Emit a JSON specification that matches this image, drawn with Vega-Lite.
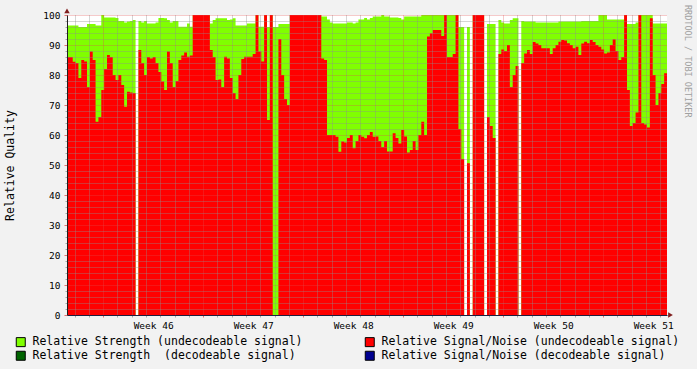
{
  "$schema": "https://vega.github.io/schema/vega-lite/v6.json",
  "width": 600,
  "height": 300,
  "autosize": {"type": "none"},
  "padding": {"left": 67, "top": 15, "right": 30, "bottom": 54},
  "background": "#F2F2F2",
  "config": {"view": {"stroke": null, "fill": "#FFFFFF"}, "font": "DejaVu Sans Mono"},
  "title": {"text": "RRDTOOL / TOBI OETIKER", "orient": "right", "anchor": "start", "offset": 3, "dx": -10, "font": "DejaVu Sans Mono", "fontSize": 8.5, "fontWeight": "normal", "color": "#A0A0A0", "frame": "group"},
  "datasets": {
    "q": [
      {"d":0,"s":96.5,"n":86},{"d":0.2,"s":96.5,"n":86},{"d":0.4,"s":96.5,"n":84.4},{"d":0.6,"s":96.5,"n":84},{"d":0.8,"s":96,"n":79},
      {"d":1,"s":96,"n":85},{"d":1.2,"s":96,"n":84.5},{"d":1.4,"s":97,"n":76},{"d":1.6,"s":97,"n":87.8},{"d":1.8,"s":97,"n":85},
      {"d":2,"s":96.5,"n":64.4},{"d":2.2,"s":96.5,"n":66},{"d":2.4,"s":100,"n":75},{"d":2.6,"s":99.2,"n":82},{"d":2.8,"s":99.2,"n":86.7},
      {"d":3,"s":99.2,"n":86},{"d":3.2,"s":99.2,"n":80},{"d":3.4,"s":99,"n":78.3},{"d":3.6,"s":98,"n":80},{"d":3.8,"s":98,"n":76.7},
      {"d":4,"s":97.5,"n":69.4},{"d":4.2,"s":97.8,"n":74.4},{"d":4.4,"s":98,"n":74.2},{"d":4.6,"s":98.3,"n":74},{"d":4.8,"s":0,"n":0},
      {"d":5,"s":98,"n":88.3},{"d":5.2,"s":97.5,"n":84},{"d":5.4,"s":98,"n":80},{"d":5.6,"s":97.2,"n":86},{"d":5.8,"s":97.2,"n":85.5},
      {"d":6,"s":97.2,"n":86},{"d":6.2,"s":97.5,"n":84},{"d":6.4,"s":99,"n":81},{"d":6.6,"s":99,"n":77.8},{"d":6.8,"s":98.9,"n":75},
      {"d":7,"s":98.3,"n":87.8},{"d":7.2,"s":97.5,"n":84},{"d":7.4,"s":98,"n":76},{"d":7.6,"s":98,"n":78},{"d":7.8,"s":96.1,"n":85},
      {"d":8,"s":96.1,"n":86.5},{"d":8.2,"s":96.1,"n":87.5},{"d":8.4,"s":97.2,"n":86.1},{"d":8.6,"s":96.1,"n":86.5},{"d":8.8,"s":100,"n":100},
      {"d":9,"s":100,"n":100},{"d":9.2,"s":100,"n":100},{"d":9.4,"s":100,"n":100},{"d":9.6,"s":100,"n":100},{"d":9.8,"s":100,"n":100},
      {"d":10,"s":97.2,"n":88.3},{"d":10.2,"s":98.3,"n":86},{"d":10.4,"s":98.9,"n":78.3},{"d":10.6,"s":98.9,"n":78.5},{"d":10.8,"s":98.9,"n":76},
      {"d":11,"s":98.9,"n":86.1},{"d":11.2,"s":98.3,"n":85.5},{"d":11.4,"s":98.5,"n":79},{"d":11.6,"s":98.9,"n":74},{"d":11.8,"s":96.5,"n":72},
      {"d":12,"s":96.5,"n":80},{"d":12.2,"s":96.5,"n":85.3},{"d":12.4,"s":96.5,"n":86.1},{"d":12.6,"s":97.2,"n":86.1},{"d":12.8,"s":97.2,"n":86.1},
      {"d":13,"s":97.2,"n":87},{"d":13.2,"s":100,"n":100},{"d":13.4,"s":96.1,"n":87.8},{"d":13.6,"s":96.1,"n":84.5},{"d":13.8,"s":100,"n":100},
      {"d":14,"s":96,"n":65},{"d":14.2,"s":100,"n":100},{"d":14.4,"s":96,"n":0},{"d":14.6,"s":96,"n":0},{"d":14.8,"s":97,"n":92},
      {"d":15,"s":97,"n":80},{"d":15.2,"s":97,"n":72},{"d":15.4,"s":97,"n":70},{"d":15.6,"s":100,"n":100},{"d":15.8,"s":100,"n":100},
      {"d":16,"s":100,"n":100},{"d":16.2,"s":100,"n":100},{"d":16.4,"s":100,"n":100},{"d":16.6,"s":100,"n":100},{"d":16.8,"s":100,"n":100},
      {"d":17,"s":100,"n":100},{"d":17.2,"s":100,"n":100},{"d":17.4,"s":100,"n":100},{"d":17.6,"s":100,"n":100},{"d":17.8,"s":99.5,"n":85.5},
      {"d":18,"s":99.5,"n":85},{"d":18.2,"s":98.5,"n":60},{"d":18.4,"s":97.5,"n":60},{"d":18.6,"s":97.2,"n":60},{"d":18.8,"s":97.2,"n":59.4},
      {"d":19,"s":97.2,"n":54.4},{"d":19.2,"s":97.2,"n":57.8},{"d":19.4,"s":97.2,"n":57.5},{"d":19.6,"s":97.5,"n":59},{"d":19.8,"s":97.5,"n":60},
      {"d":20,"s":97.2,"n":55.6},{"d":20.2,"s":97.5,"n":58},{"d":20.4,"s":98.5,"n":60},{"d":20.6,"s":98.5,"n":59.4},{"d":20.8,"s":99,"n":58.9},
      {"d":21,"s":98.5,"n":60},{"d":21.2,"s":99,"n":61},{"d":21.4,"s":99.5,"n":59.4},{"d":21.6,"s":99.5,"n":59.5},{"d":21.8,"s":99.5,"n":58},
      {"d":22,"s":100,"n":56},{"d":22.2,"s":99.5,"n":58},{"d":22.4,"s":99.5,"n":54.5},{"d":22.6,"s":99.2,"n":54.5},{"d":22.8,"s":99.2,"n":60.6},
      {"d":23,"s":99.2,"n":59},{"d":23.2,"s":99,"n":57.2},{"d":23.4,"s":98.5,"n":61.7},{"d":23.6,"s":99.5,"n":59.5},{"d":23.8,"s":99.5,"n":54.2},
      {"d":24,"s":99.5,"n":55},{"d":24.2,"s":99.5,"n":58},{"d":24.4,"s":99.5,"n":55},{"d":24.6,"s":99.5,"n":60},{"d":24.8,"s":100,"n":64.4},
      {"d":25,"s":100,"n":60},{"d":25.2,"s":100,"n":92.8},{"d":25.4,"s":100,"n":93.9},{"d":25.6,"s":100,"n":95},{"d":25.8,"s":100,"n":95},
      {"d":26,"s":100,"n":95},{"d":26.2,"s":100,"n":93},{"d":26.4,"s":100,"n":100},{"d":26.6,"s":100,"n":86},{"d":26.8,"s":100,"n":86},
      {"d":27,"s":100,"n":87},{"d":27.2,"s":100,"n":100},{"d":27.4,"s":96,"n":62},{"d":27.6,"s":96,"n":52},{"d":27.8,"s":0,"n":0},
      {"d":28,"s":96,"n":50.6},{"d":28.2,"s":0,"n":0},{"d":28.4,"s":100,"n":100},{"d":28.6,"s":100,"n":100},{"d":28.8,"s":100,"n":100},
      {"d":29,"s":100,"n":100},{"d":29.2,"s":0,"n":0},{"d":29.4,"s":97,"n":66},{"d":29.6,"s":97,"n":63},{"d":29.8,"s":97,"n":59},
      {"d":30,"s":0,"n":0},{"d":30.2,"s":98.3,"n":87},{"d":30.4,"s":97.5,"n":88.5},{"d":30.6,"s":97.2,"n":88},{"d":30.8,"s":97.2,"n":90},
      {"d":31,"s":98.3,"n":76},{"d":31.2,"s":98.9,"n":80},{"d":31.4,"s":98.9,"n":83},{"d":31.6,"s":0,"n":0},{"d":31.8,"s":98,"n":84},
      {"d":32,"s":97.8,"n":87.2},{"d":32.2,"s":97.8,"n":88.3},{"d":32.4,"s":97.8,"n":87},{"d":32.6,"s":97.8,"n":91},{"d":32.8,"s":97.5,"n":90.5},
      {"d":33,"s":97.5,"n":90},{"d":33.2,"s":97.5,"n":88.9},{"d":33.4,"s":97.5,"n":88.9},{"d":33.6,"s":97.5,"n":88.9},{"d":33.8,"s":97.5,"n":87},
      {"d":34,"s":97.5,"n":88.9},{"d":34.2,"s":97.5,"n":90},{"d":34.4,"s":97.8,"n":91.1},{"d":34.6,"s":97.8,"n":91.7},{"d":34.8,"s":97.8,"n":91.5},
      {"d":35,"s":97.8,"n":90.6},{"d":35.2,"s":97.8,"n":90},{"d":35.4,"s":97.8,"n":88.9},{"d":35.6,"s":97.8,"n":89.4},{"d":35.8,"s":97.8,"n":86.7},
      {"d":36,"s":98,"n":90.5},{"d":36.2,"s":98,"n":91.1},{"d":36.4,"s":98,"n":90.6},{"d":36.6,"s":98,"n":91.7},{"d":36.8,"s":98,"n":91},
      {"d":37,"s":98,"n":90},{"d":37.2,"s":100,"n":89.4},{"d":37.4,"s":100,"n":88.5},{"d":37.6,"s":100,"n":87.2},{"d":37.8,"s":98.5,"n":87.5},
      {"d":38,"s":98.5,"n":90},{"d":38.2,"s":98.5,"n":91.9},{"d":38.4,"s":98.5,"n":88},{"d":38.6,"s":98.5,"n":85},{"d":38.8,"s":98.5,"n":86},
      {"d":39,"s":100,"n":100},{"d":39.2,"s":97,"n":75},{"d":39.4,"s":97,"n":63},{"d":39.6,"s":97,"n":64},{"d":39.8,"s":97.5,"n":67.5},
      {"d":40,"s":100,"n":100},{"d":40.2,"s":100,"n":64},{"d":40.4,"s":100,"n":63.5},{"d":40.6,"s":100,"n":62.5},{"d":40.8,"s":100,"n":98.9},
      {"d":41,"s":97.2,"n":80},{"d":41.2,"s":97.2,"n":70},{"d":41.4,"s":97.2,"n":74},{"d":41.6,"s":97.2,"n":77},{"d":41.8,"s":97.2,"n":80.6},
      {"d":42,"s":97.2,"n":80.6}
    ],
    "arrows": [
      {"d": 0, "v": 101.4, "dir": "triangle-up"},
      {"d": 42.245, "v": 0, "dir": "triangle-right"}
    ]
  },
  "layer": [
    {
      "data": {"name": "q"},
      "mark": {"type": "area", "interpolate": "step-after", "opacity": 1},
      "encoding": {
        "x": {
          "field": "d", "type": "quantitative",
          "scale": {"domain": [0, 42], "nice": false, "zero": false},
          "axis": {
            "title": null,
            "values": [0.53,1.53,2.53,3.53,4.53,5.53,6.53,7.53,8.53,9.53,10.53,11.53,12.53,13.53,14.53,15.53,16.53,17.53,18.53,19.53,20.53,21.53,22.53,23.53,24.53,25.53,26.53,27.53,28.53,29.53,30.53,31.53,32.53,33.53,34.53,35.53,36.53,37.53,38.53,39.53,40.53,41.53,6.03,13.03,20.03,27.03,34.03,41.03],
            "labelExpr": "round(datum.value*100) % 100 == 3 ? 'Week ' + (46 + round((datum.value - 6.03)/7)) : ''",
            "grid": true,
            "gridDash": [1, 1],
            "gridColor": {"condition": {"test": "(round(datum.value*100) - 253) % 700 == 0", "value": "rgba(222,79,79,0.6)"}, "value": "rgba(143,143,143,0.75)"},
            "gridOpacity": {"condition": {"test": "round(datum.value*100) % 100 == 3", "value": 0}, "value": 1},
            "tickOpacity": {"condition": {"test": "round(datum.value*100) % 100 == 3", "value": 0}, "value": 1},
            "tickColor": {"condition": {"test": "(round(datum.value*100) - 253) % 700 == 0", "value": "rgba(222,79,79,0.8)"}, "value": "rgba(143,143,143,0.75)"},
            "tickSize": 2,
            "labelFont": "DejaVu Sans Mono",
            "labelFontSize": 9.5,
            "labelColor": "#000000",
            "labelPadding": 3,
            "labelOverlap": false,
            "labelFlush": false,
            "labelBound": false,
            "domainColor": "#1F1F3F",
            "zindex": 1
          }
        },
        "y": {
          "field": "s", "type": "quantitative", "stack": null,
          "scale": {"domain": [0, 100], "nice": false},
          "axis": {
            "title": "Relative Quality",
            "values": [0,2,4,6,8,10,12,14,16,18,20,22,24,26,28,30,32,34,36,38,40,42,44,46,48,50,52,54,56,58,60,62,64,66,68,70,72,74,76,78,80,82,84,86,88,90,92,94,96,98,100],
            "labelExpr": "datum.value % 10 == 0 ? datum.label : ''",
            "grid": true,
            "gridDash": [1, 1],
            "gridColor": {"condition": {"test": "datum.value % 10 == 0", "value": "rgba(222,79,79,0.6)"}, "value": "rgba(143,143,143,0.75)"},
            "tickColor": {"condition": {"test": "datum.value % 10 == 0", "value": "rgba(222,79,79,0.8)"}, "value": "rgba(143,143,143,0.75)"},
            "tickSize": {"condition": {"test": "datum.value % 10 == 0", "value": 3}, "value": 2},
            "labelFont": "DejaVu Sans Mono",
            "labelFontSize": 9.5,
            "labelColor": "#000000",
            "labelPadding": 4,
            "labelOverlap": false,
            "labelFlush": false,
            "labelBound": false,
            "domainColor": "#1F1F1F",
            "titleFont": "DejaVu Sans Mono",
            "titleFontSize": 11.5,
            "titleFontWeight": "normal",
            "titleColor": "#000000",
            "titleAngle": -90,
            "titleX": -57,
            "titleY": 150,
            "titleAlign": "center",
            "titleBaseline": "middle",
            "zindex": 1
          }
        },
        "color": {
          "datum": "Relative Strength (undecodeable signal)",
          "type": "nominal",
          "scale": {
            "domain": ["Relative Strength (undecodeable signal)", "Relative Strength\u00a0 (decodeable signal)", "Relative Signal/Noise (undecodeable signal)", "Relative Signal/Noise (decodeable signal)"],
            "range": ["#80FF00", "#006400", "#FF0000", "#000090"]
          },
          "legend": {
            "orient": "none",
            "legendX": -52,
            "legendY": 321,
            "columns": 2,
            "columnPadding": 60,
            "rowPadding": 0,
            "padding": 0,
            "title": null,
            "symbolType": "square",
            "symbolSize": 81,
            "symbolStrokeColor": "#000000",
            "symbolStrokeWidth": 1,
            "symbolOpacity": 1,
            "labelFont": "DejaVu Sans Mono",
            "labelFontSize": 11.5,
            "labelColor": "#000000",
            "labelLimit": 500,
            "labelOffset": 6,
            "encode": {"symbols": {"update": {"stroke": {"value": "#000000"}, "strokeWidth": {"value": 1}, "opacity": {"value": 1}}}}
          }
        }
      }
    },
    {
      "data": {"name": "q"},
      "mark": {"type": "area", "interpolate": "step-after", "opacity": 1},
      "encoding": {
        "x": {
          "field": "d", "type": "quantitative",
          "scale": {"domain": [0, 42], "nice": false, "zero": false},
          "axis": {
            "title": null,
            "values": [0.53,1.53,2.53,3.53,4.53,5.53,6.53,7.53,8.53,9.53,10.53,11.53,12.53,13.53,14.53,15.53,16.53,17.53,18.53,19.53,20.53,21.53,22.53,23.53,24.53,25.53,26.53,27.53,28.53,29.53,30.53,31.53,32.53,33.53,34.53,35.53,36.53,37.53,38.53,39.53,40.53,41.53,6.03,13.03,20.03,27.03,34.03,41.03],
            "labelExpr": "round(datum.value*100) % 100 == 3 ? 'Week ' + (46 + round((datum.value - 6.03)/7)) : ''",
            "grid": true,
            "gridDash": [1, 1],
            "gridColor": {"condition": {"test": "(round(datum.value*100) - 253) % 700 == 0", "value": "rgba(222,79,79,0.6)"}, "value": "rgba(143,143,143,0.75)"},
            "gridOpacity": {"condition": {"test": "round(datum.value*100) % 100 == 3", "value": 0}, "value": 1},
            "tickOpacity": {"condition": {"test": "round(datum.value*100) % 100 == 3", "value": 0}, "value": 1},
            "tickColor": {"condition": {"test": "(round(datum.value*100) - 253) % 700 == 0", "value": "rgba(222,79,79,0.8)"}, "value": "rgba(143,143,143,0.75)"},
            "tickSize": 2,
            "labelFont": "DejaVu Sans Mono",
            "labelFontSize": 9.5,
            "labelColor": "#000000",
            "labelPadding": 3,
            "labelOverlap": false,
            "labelFlush": false,
            "labelBound": false,
            "domainColor": "#1F1F3F",
            "zindex": 1
          }
        },
        "y": {
          "field": "n", "type": "quantitative", "stack": null,
          "scale": {"domain": [0, 100], "nice": false},
          "axis": {
            "title": "Relative Quality",
            "values": [0,2,4,6,8,10,12,14,16,18,20,22,24,26,28,30,32,34,36,38,40,42,44,46,48,50,52,54,56,58,60,62,64,66,68,70,72,74,76,78,80,82,84,86,88,90,92,94,96,98,100],
            "labelExpr": "datum.value % 10 == 0 ? datum.label : ''",
            "grid": true,
            "gridDash": [1, 1],
            "gridColor": {"condition": {"test": "datum.value % 10 == 0", "value": "rgba(222,79,79,0.6)"}, "value": "rgba(143,143,143,0.75)"},
            "tickColor": {"condition": {"test": "datum.value % 10 == 0", "value": "rgba(222,79,79,0.8)"}, "value": "rgba(143,143,143,0.75)"},
            "tickSize": {"condition": {"test": "datum.value % 10 == 0", "value": 3}, "value": 2},
            "labelFont": "DejaVu Sans Mono",
            "labelFontSize": 9.5,
            "labelColor": "#000000",
            "labelPadding": 4,
            "labelOverlap": false,
            "labelFlush": false,
            "labelBound": false,
            "domainColor": "#1F1F1F",
            "titleFont": "DejaVu Sans Mono",
            "titleFontSize": 11.5,
            "titleFontWeight": "normal",
            "titleColor": "#000000",
            "titleAngle": -90,
            "titleX": -57,
            "titleY": 150,
            "titleAlign": "center",
            "titleBaseline": "middle",
            "zindex": 1
          }
        },
        "color": {"datum": "Relative Signal/Noise (undecodeable signal)", "type": "nominal"}
      }
    },
    {
      "data": {"name": "arrows"},
      "mark": {"type": "point", "filled": true, "size": 30, "color": "#801F1F", "opacity": 1},
      "encoding": {
        "x": {
          "field": "d", "type": "quantitative",
          "scale": {"domain": [0, 42], "nice": false, "zero": false},
          "axis": {
            "title": null,
            "values": [0.53,1.53,2.53,3.53,4.53,5.53,6.53,7.53,8.53,9.53,10.53,11.53,12.53,13.53,14.53,15.53,16.53,17.53,18.53,19.53,20.53,21.53,22.53,23.53,24.53,25.53,26.53,27.53,28.53,29.53,30.53,31.53,32.53,33.53,34.53,35.53,36.53,37.53,38.53,39.53,40.53,41.53,6.03,13.03,20.03,27.03,34.03,41.03],
            "labelExpr": "round(datum.value*100) % 100 == 3 ? 'Week ' + (46 + round((datum.value - 6.03)/7)) : ''",
            "grid": true,
            "gridDash": [1, 1],
            "gridColor": {"condition": {"test": "(round(datum.value*100) - 253) % 700 == 0", "value": "rgba(222,79,79,0.6)"}, "value": "rgba(143,143,143,0.75)"},
            "gridOpacity": {"condition": {"test": "round(datum.value*100) % 100 == 3", "value": 0}, "value": 1},
            "tickOpacity": {"condition": {"test": "round(datum.value*100) % 100 == 3", "value": 0}, "value": 1},
            "tickColor": {"condition": {"test": "(round(datum.value*100) - 253) % 700 == 0", "value": "rgba(222,79,79,0.8)"}, "value": "rgba(143,143,143,0.75)"},
            "tickSize": 2,
            "labelFont": "DejaVu Sans Mono",
            "labelFontSize": 9.5,
            "labelColor": "#000000",
            "labelPadding": 3,
            "labelOverlap": false,
            "labelFlush": false,
            "labelBound": false,
            "domainColor": "#1F1F3F",
            "zindex": 1
          }
        },
        "y": {
          "field": "v", "type": "quantitative",
          "scale": {"domain": [0, 100], "nice": false},
          "axis": {
            "title": "Relative Quality",
            "values": [0,2,4,6,8,10,12,14,16,18,20,22,24,26,28,30,32,34,36,38,40,42,44,46,48,50,52,54,56,58,60,62,64,66,68,70,72,74,76,78,80,82,84,86,88,90,92,94,96,98,100],
            "labelExpr": "datum.value % 10 == 0 ? datum.label : ''",
            "grid": true,
            "gridDash": [1, 1],
            "gridColor": {"condition": {"test": "datum.value % 10 == 0", "value": "rgba(222,79,79,0.6)"}, "value": "rgba(143,143,143,0.75)"},
            "tickColor": {"condition": {"test": "datum.value % 10 == 0", "value": "rgba(222,79,79,0.8)"}, "value": "rgba(143,143,143,0.75)"},
            "tickSize": {"condition": {"test": "datum.value % 10 == 0", "value": 3}, "value": 2},
            "labelFont": "DejaVu Sans Mono",
            "labelFontSize": 9.5,
            "labelColor": "#000000",
            "labelPadding": 4,
            "labelOverlap": false,
            "labelFlush": false,
            "labelBound": false,
            "domainColor": "#1F1F1F",
            "titleFont": "DejaVu Sans Mono",
            "titleFontSize": 11.5,
            "titleFontWeight": "normal",
            "titleColor": "#000000",
            "titleAngle": -90,
            "titleX": -57,
            "titleY": 150,
            "titleAlign": "center",
            "titleBaseline": "middle",
            "zindex": 1
          }
        },
        "shape": {"field": "dir", "type": "nominal", "scale": null}
      }
    }
  ]
}
